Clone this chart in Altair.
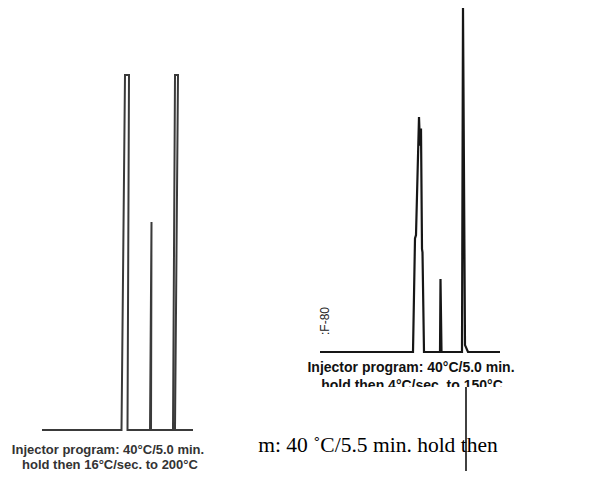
import altair as alt
import pandas as pd

# Left chromatogram trace (retention time in min, relative signal %)
left_time = [0.0, 7.95, 8.3, 8.7, 8.55, 10.8, 10.95, 10.9, 13.1, 13.3, 13.6, 13.3, 15.1]
left_signal = [0, 0, 100, 100, 0, 0, 58.6, 0, 0, 100, 100, 0, 0]

# Right chromatogram trace (F-80)
right_time = [0.0, 9.3, 9.5, 9.6, 9.9, 10.0, 10.1, 10.2, 10.25, 10.4, 12.0, 12.05, 12.15,
              14.2, 14.3, 14.5, 14.8, 18.0]
right_signal = [0, 0, 33, 34, 68.3, 60, 65, 30, 29, 0, 0, 21.2, 0, 0, 100, 2, 0, 0]

left_caption = ["Injector program: 40°C/5.0 min.", "hold then 16°C/sec. to 200°C"]
right_caption = ["Injector program: 40°C/5.0 min.", "hold then 4°C/sec. to 150°C"]
right_label = ":F-80"
serif_text = "m: 40 ˚C/5.5 min. hold then"

left_df = pd.DataFrame({"t": left_time, "s": left_signal, "i": range(len(left_time))})
right_df = pd.DataFrame({"t": right_time, "s": right_signal, "i": range(len(right_time))})
one = pd.DataFrame({"k": [0]})

left_trace = alt.Chart(left_df).mark_line(color="#3a3a3a", strokeWidth=2, strokeJoin="miter").encode(
    x=alt.X("t:Q", axis=None, scale=alt.Scale(domain=[0, 15], range=[34, 184], zero=False, nice=False)),
    y=alt.Y("s:Q", axis=None, scale=alt.Scale(domain=[0, 100], range=[422, 67], zero=False, nice=False)),
    order="i:Q",
)

right_trace = alt.Chart(right_df).mark_line(color="#161616", strokeWidth=2.2, strokeJoin="miter").encode(
    x=alt.X("t:Q", axis=None, scale=alt.Scale(domain=[0, 18], range=[312, 492], zero=False, nice=False)),
    y=alt.Y("s:Q", axis=None, scale=alt.Scale(domain=[0, 100], range=[344, 0], zero=False, nice=False)),
    order="i:Q",
)

def txt(s, x, y, size, font="Liberation Sans", weight="bold", color="#222", angle=0):
    return alt.Chart(one).mark_text(
        text=s, font=font, fontSize=size, fontWeight=weight, color=color,
        align="center", baseline="middle", angle=angle,
    ).encode(x=alt.value(x), y=alt.value(y))

layers = [
    left_trace,
    right_trace,
    txt(left_caption[0], 100, 442, 13, color="#333"),
    txt(left_caption[1], 102, 457, 13, color="#333"),
    txt(right_label, 317, 313, 12, weight="normal", color="#222", angle=270),
    txt(right_caption[0], 403, 360, 14, color="#111"),
    txt(right_caption[1], 404, 378, 14, color="#111"),
    alt.Chart(one).mark_rect(color="white").encode(
        x=alt.value(292), x2=alt.value(582), y=alt.value(379), y2=alt.value(463)),
    txt(serif_text, 370, 438, 21.5, font="Liberation Serif", weight="normal", color="#000"),
    alt.Chart(one).mark_rule(color="#111", strokeWidth=1.6).encode(
        x=alt.value(458), y=alt.value(379), y2=alt.value(463)),
]

chart = alt.layer(*layers).resolve_scale(x="independent", y="independent").properties(
    width=582, height=463, padding=0,
    autosize=alt.AutoSizeParams(type="none"),
).configure_view(strokeWidth=0)

chart.save("out.html", embed_options={"renderer": "svg", "actions": False})
